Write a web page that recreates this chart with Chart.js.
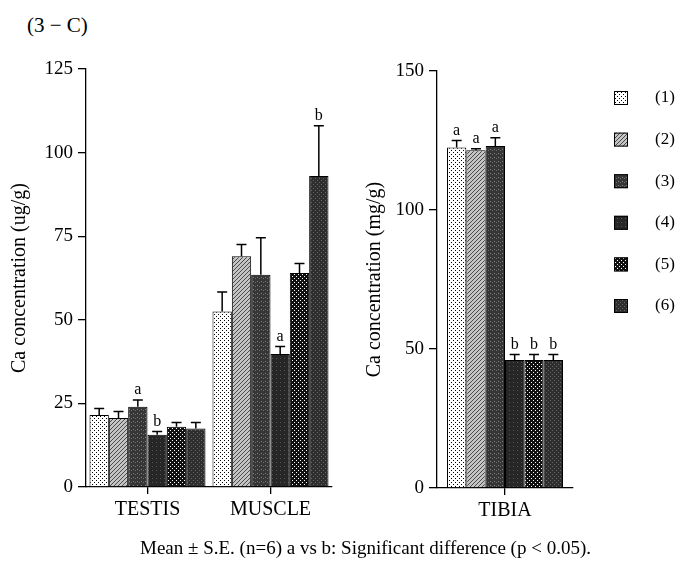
<!DOCTYPE html>
<html>
<head>
<meta charset="utf-8">
<script src="https://cdn.jsdelivr.net/npm/chart.js@4.4.0/dist/chart.umd.min.js"></script>
<style>
  body { margin: 0; background: #fff; width: 679px; height: 564px; position: relative; overflow: hidden; font-family: "Liberation Serif", serif; color: #000; }
  #titulo { position: absolute; left: 27px; top: 13px; font-size: 21px; }
  #rodape { position: absolute; left: 140px; top: 537px; font-size: 19px; white-space: nowrap; }
  #graficoEsq { position: absolute; left: 0; top: 0; }
  #graficoDir { position: absolute; left: 345px; top: 0; }
</style>
</head>
<body>
<div id="titulo">(3 − C)</div>
<canvas id="graficoEsq" width="345" height="564"></canvas>
<canvas id="graficoDir" width="334" height="564"></canvas>
<div id="rodape">Mean ± S.E. (n=6) a vs b: Significant difference (p &lt; 0.05).</div>
<script>
const grupos = ["(1)", "(2)", "(3)", "(4)", "(5)", "(6)"];
const tecidos = ["TESTIS", "MUSCLE"];
const ossos = ["TIBIA"];

const testisMedia = [21.5, 20.6, 24.0, 15.6, 18.0, 17.5];
const testisEP = [2.0, 2.0, 2.0, 1.0, 1.3, 1.8];
const testisSig = ["", "", "a", "b", "", ""];

const musculoMedia = [52.5, 69.0, 63.5, 39.8, 64.0, 93.0];
const musculoEP = [5.8, 3.5, 11.0, 2.2, 2.8, 15.0];
const musculoSig = ["", "", "", "a", "", "b"];

const tibiaMedia = [122.5, 121.5, 123.0, 46.0, 46.0, 46.0];
const tibiaEP = [2.5, 0.5, 3.0, 2.0, 2.0, 2.0];
const tibiaSig = ["a", "a", "a", "b", "b", "b"];

const ticksEsq = [0, 25, 50, 75, 100, 125];
const ticksDir = [0, 50, 100, 150];

const fonte = "Liberation Serif";

// texturas das barras (pequenos ladrilhos repetidos)
function criarPadrao(tipo) {
  const c = document.createElement("canvas");
  c.width = 4;
  c.height = 4;
  const ctx = c.getContext("2d");
  function px(x, y, cor) {
    ctx.fillStyle = cor;
    ctx.fillRect(x, y, 1, 1);
  }
  if (tipo == 1) {
    ctx.fillStyle = "#fff"; ctx.fillRect(0, 0, 4, 4);
    px(0, 0, "#000"); px(2, 2, "#000");
  } else if (tipo == 2) {
    ctx.fillStyle = "#c4c4c4"; ctx.fillRect(0, 0, 4, 4);
    px(0, 3, "#4a4a4a"); px(1, 2, "#4a4a4a"); px(2, 1, "#4a4a4a"); px(3, 0, "#4a4a4a");
  } else if (tipo == 3) {
    ctx.fillStyle = "#363636"; ctx.fillRect(0, 0, 4, 4);
    px(1, 1, "#808080"); px(3, 2, "#707070");
  } else if (tipo == 4) {
    ctx.fillStyle = "#262626"; ctx.fillRect(0, 0, 4, 4);
    px(0, 2, "#555");
  } else if (tipo == 5) {
    ctx.fillStyle = "#111"; ctx.fillRect(0, 0, 4, 4);
    px(0, 0, "#fff"); px(2, 2, "#fff");
  } else {
    ctx.fillStyle = "#2e2e2e"; ctx.fillRect(0, 0, 4, 4);
    px(1, 0, "#666"); px(3, 2, "#666");
  }
  return document.createElement("canvas").getContext("2d").createPattern(c, "repeat");
}

const padroes = [1, 2, 3, 4, 5, 6].map(criarPadrao);

const barrasErro = {
  id: "barrasErro",
  afterDatasetsDraw(chart) {
    const ctx = chart.ctx;
    const escalaY = chart.scales.y;
    ctx.save();
    ctx.strokeStyle = "#000";
    ctx.lineWidth = 1.5;
    chart.data.datasets.forEach((ds, i) => {
      chart.getDatasetMeta(i).data.forEach((barra, j) => {
        const topo = escalaY.getPixelForValue(ds.data[j] + ds.erro[j]);
        ctx.beginPath();
        ctx.moveTo(barra.x, barra.y);
        ctx.lineTo(barra.x, topo);
        ctx.moveTo(barra.x - 5, topo);
        ctx.lineTo(barra.x + 5, topo);
        ctx.stroke();
        if (ds.sig[j]) {
          ctx.fillStyle = "#000";
          ctx.font = "16px '" + fonte + "'";
          ctx.textAlign = "center";
          ctx.textBaseline = "bottom";
          ctx.fillText(ds.sig[j], barra.x, topo - 2);
        }
      });
    });
    ctx.restore();
  },
};

const legendaLateral = {
  id: "legendaLateral",
  afterDraw(chart) {
    const ctx = chart.ctx;
    ctx.save();
    chart.data.datasets.forEach((ds, i) => {
      const yc = 98 + i * 41.6;
      ctx.fillStyle = ds.backgroundColor;
      ctx.fillRect(269, yc - 7, 14, 14);
      ctx.strokeStyle = "#000";
      ctx.lineWidth = 1;
      ctx.strokeRect(269.5, yc - 6.5, 13, 13);
      ctx.fillStyle = "#000";
      ctx.font = "17px '" + fonte + "'";
      ctx.textAlign = "left";
      ctx.textBaseline = "middle";
      ctx.fillText(ds.label, 310, yc);
    });
    ctx.restore();
  },
};

function opcoes(maximo, passo, tituloY, larguraY, alturaX, padding, padTitulo, listaTicks) {
  return {
    responsive: false,
    animation: false,
    devicePixelRatio: 1,
    layout: { padding: padding },
    plugins: { legend: { display: false }, tooltip: { enabled: false } },
    scales: {
      x: {
        grid: { offset: false, drawOnChartArea: false, tickLength: 7, color: "#000", lineWidth: 1.3 },
        border: { color: "#000", width: 1.3 },
        ticks: { color: "#000", font: { family: fonte, size: 20 }, padding: 4 },
        afterFit(escala) { escala.height = alturaX; },
      },
      y: {
        min: 0,
        max: maximo,
        afterBuildTicks(escala) { escala.ticks = listaTicks.map((v) => ({ value: v })); },
        ticks: { stepSize: passo, color: "#000", font: { family: fonte, size: 19 }, padding: 5 },
        grid: { drawOnChartArea: false, tickLength: 8, color: "#000", lineWidth: 1.3 },
        border: { color: "#000", width: 1.3 },
        title: { display: true, text: tituloY, color: "#000", font: { family: fonte, size: 20 }, padding: { top: padTitulo, bottom: 0 } },
        afterFit(escala) { escala.width = larguraY; },
      },
    },
  };
}

new Chart(document.getElementById("graficoEsq"), {
  type: "bar",
  data: {
    labels: tecidos,
    datasets: grupos.map((g, i) => ({
      label: g,
      data: [testisMedia[i], musculoMedia[i]],
      erro: [testisEP[i], musculoEP[i]],
      sig: [testisSig[i], musculoSig[i]],
      backgroundColor: padroes[i],
      borderColor: "#000",
      borderWidth: 1,
      categoryPercentage: 0.943,
      barPercentage: 1,
    })),
  },
  options: opcoes(125, 25, "Ca concentration (ug/g)", 86, 77, { top: 69, right: 13, left: 0, bottom: 0 }, 8, ticksEsq),
  plugins: [barrasErro],
});

new Chart(document.getElementById("graficoDir"), {
  type: "bar",
  data: {
    labels: ossos,
    datasets: grupos.map((g, i) => ({
      label: g,
      data: [tibiaMedia[i]],
      erro: [tibiaEP[i]],
      sig: [tibiaSig[i]],
      backgroundColor: padroes[i],
      borderColor: "#000",
      borderWidth: 1,
      categoryPercentage: 0.853,
      barPercentage: 1,
    })),
  },
  options: opcoes(150, 50, "Ca concentration (mg/g)", 92, 76, { top: 71, right: 106, left: 0, bottom: 0 }, 18, ticksDir),
  plugins: [barrasErro, legendaLateral],
});
</script>
</body>
</html>
